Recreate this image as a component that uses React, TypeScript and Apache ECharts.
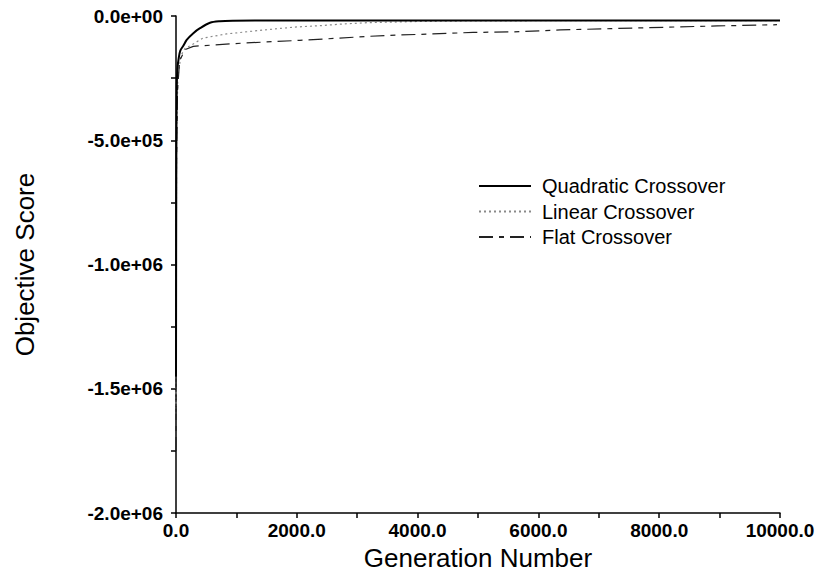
import React, { useEffect, useRef } from "react";
import * as echarts from "echarts";

const seriesNames = ["Quadratic Crossover", "Linear Crossover", "Flat Crossover"];

const quadGen = [0, 5, 12, 22, 45, 70, 121, 177, 287, 397, 563, 728, 944, 1300, 2000, 4000, 6000, 8000, 10000];
const quadVal = [-1450000, -600000, -300000, -215000, -170000, -140000, -120000, -96000, -69000, -49000, -27000, -21000, -19000, -18500, -18500, -18300, -18200, -18000, -18000];

const linGen = [0, 10, 30, 80, 150, 232, 447, 838, 1390, 1940, 2380, 2770, 3160, 4000, 5000, 7000, 10000];
const linVal = [-1600000, -500000, -250000, -160000, -130000, -120000, -89000, -72000, -58000, -45000, -39000, -32000, -27000, -22000, -19500, -18800, -18500];

const flatGen = [0, 8, 25, 60, 150, 286, 1110, 2050, 2710, 3160, 3650, 4250, 4920, 5580, 6360, 7190, 8130, 8960, 9950];
const flatVal = [-1750000, -600000, -300000, -180000, -135000, -122000, -109000, -98000, -89000, -82000, -77000, -72000, -66000, -64000, -56000, -51000, -45000, -40000, -35000];

const xMin = 0;
const xMax = 10000;
const xInterval = 2000;
const yMin = -2000000;
const yMax = 0;
const yInterval = 500000;

const pairs = (xs: number[], ys: number[]) => xs.map((x, i) => [x, ys[i]]);

const expFmt = (v: number) => {
  const s = v.toExponential(1);
  const [m, e] = s.split("e");
  const sign = e[0] === "-" ? "-" : "+";
  const digits = e.replace(/[+-]/, "").padStart(2, "0");
  return `${m}e${sign}${digits}`;
};

const FONT = "'Liberation Sans', Arial, Helvetica, sans-serif";

export default function App() {
  const ref = useRef<HTMLDivElement>(null);
  useEffect(() => {
    if (!ref.current) return;
    const chart = echarts.init(ref.current, undefined, { renderer: "svg" });
    chart.setOption({
      animation: false,
      backgroundColor: "#ffffff",
      grid: { left: 176, right: 41, top: 16, bottom: 59, containLabel: false },
      legend: {
        orient: "vertical",
        left: 473,
        top: 171,
        itemWidth: 52,
        itemHeight: 14,
        itemGap: 5.5,
        selectedMode: false,
        itemStyle: { opacity: 0, borderWidth: 0 },
        textStyle: { fontFamily: FONT, fontSize: 20, color: "#000", lineHeight: 20, padding: [0, 0, 0, 6] },
        data: seriesNames,
      },
      xAxis: {
        type: "value",
        min: xMin,
        max: xMax,
        interval: xInterval,
        name: "Generation Number",
        nameLocation: "middle",
        nameGap: 29,
        nameTextStyle: { fontFamily: FONT, fontSize: 26, color: "#000" },
        axisLine: { show: true, onZero: false, lineStyle: { color: "#000", width: 1.5 } },
        axisTick: { show: true, inside: false, length: 5, lineStyle: { color: "#000", width: 1.5 } },
        minorTick: { show: true, splitNumber: 2, length: 5, lineStyle: { color: "#000", width: 1.5 } },
        splitLine: { show: false },
        axisLabel: {
          fontFamily: FONT,
          fontSize: 19,
          fontWeight: "bold",
          color: "#000",
          margin: 8,
          formatter: (v: number) => v.toFixed(1),
        },
      },
      yAxis: {
        type: "value",
        min: yMin,
        max: yMax,
        interval: yInterval,
        name: "Objective Score",
        nameLocation: "middle",
        nameGap: 138,
        nameTextStyle: { fontFamily: FONT, fontSize: 26, color: "#000" },
        axisLine: { show: true, onZero: false, lineStyle: { color: "#000", width: 1.5 } },
        axisTick: { show: true, inside: false, length: 5, lineStyle: { color: "#000", width: 1.5 } },
        minorTick: { show: true, splitNumber: 2, length: 5, lineStyle: { color: "#000", width: 1.5 } },
        splitLine: { show: false },
        axisLabel: {
          fontFamily: FONT,
          fontSize: 19,
          fontWeight: "bold",
          color: "#000",
          margin: 13,
          formatter: (v: number) => expFmt(v),
        },
      },
      series: [
        {
          name: seriesNames[0],
          type: "line",
          data: pairs(quadGen, quadVal),
          showSymbol: false,
          symbol: "none",
          smooth: 0.3,
          lineStyle: { color: "#000", width: 2, type: "solid" },
          itemStyle: { color: "#000" },
          z: 3,
        },
        {
          name: seriesNames[1],
          type: "line",
          data: pairs(linGen, linVal),
          showSymbol: false,
          symbol: "none",
          lineStyle: { color: "#8a8a8a", width: 1.2, type: [2, 3] },
          itemStyle: { color: "#8a8a8a" },
          z: 2,
        },
        {
          name: seriesNames[2],
          type: "line",
          data: pairs(flatGen, flatVal),
          showSymbol: false,
          symbol: "none",
          lineStyle: { color: "#222", width: 1.2, type: [14, 6, 5, 6] },
          itemStyle: { color: "#222" },
          z: 2,
        },
      ],
    });
    return () => chart.dispose();
  }, []);
  return <div ref={ref} style={{ width: 821, height: 576, position: "absolute", left: 0, top: 0 }} />;
}
